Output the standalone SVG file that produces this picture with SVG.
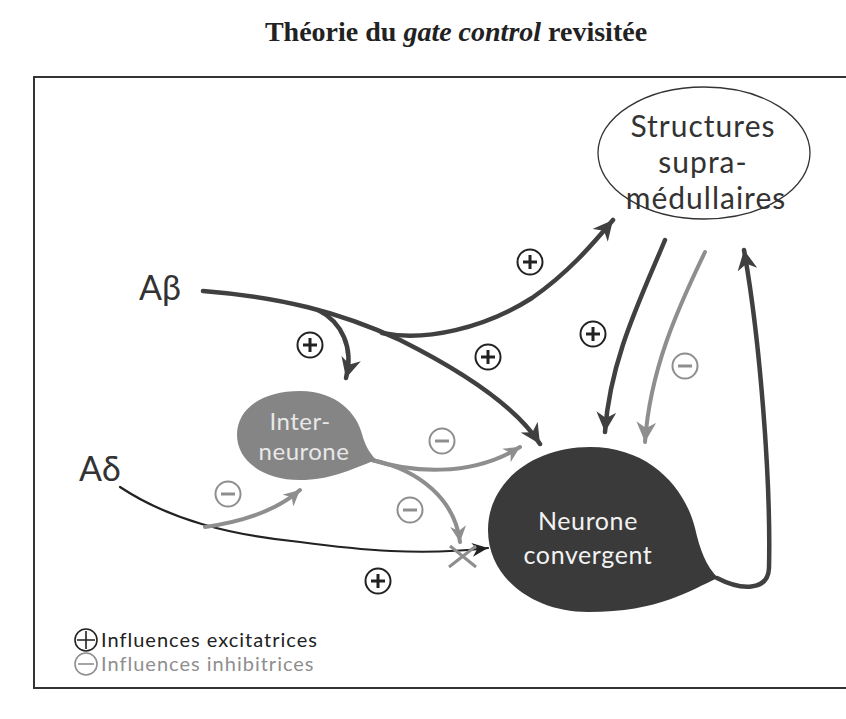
<svg xmlns="http://www.w3.org/2000/svg" width="846" height="719" viewBox="0 0 846 719">
<defs>
<style>
.t{font-family:Lato,"Open Sans","Liberation Sans",sans-serif}
.dk{fill:none;stroke:#404040;stroke-width:4.5;stroke-linecap:round}
.gr{fill:none;stroke:#8e8e8e;stroke-width:4;stroke-linecap:round}
.thin{fill:none;stroke:#222;stroke-width:2.2;stroke-linecap:round}
.pc{fill:#fff;stroke:#222;stroke-width:2}
.ps{stroke:#222;stroke-width:3}
.mc{fill:#fff;stroke:#8e8e8e;stroke-width:2}
.ms{stroke:#8e8e8e;stroke-width:3}
</style>
<marker id="ad" markerUnits="userSpaceOnUse" markerWidth="22" markerHeight="20" refX="20" refY="10" orient="auto" viewBox="0 0 22 20">
<path d="M0,0 L20,10 L0,20 L6,10 Z" fill="#404040"/>
</marker>
<marker id="ag" markerUnits="userSpaceOnUse" markerWidth="22" markerHeight="20" refX="20" refY="10" orient="auto" viewBox="0 0 22 20">
<path d="M0,0 L20,10 L0,20 L6,10 Z" fill="#8e8e8e"/>
</marker>
<marker id="ags" markerUnits="userSpaceOnUse" markerWidth="18" markerHeight="16" refX="16" refY="8" orient="auto" viewBox="0 0 18 16">
<path d="M0,0 L16,8 L0,16 L5,8 Z" fill="#8e8e8e"/>
</marker>
<marker id="at" markerUnits="userSpaceOnUse" markerWidth="18" markerHeight="14" refX="16" refY="7" orient="auto" viewBox="0 0 18 14">
<path d="M0,0 L16,7 L0,14 L5,7 Z" fill="#222"/>
</marker>
</defs>
<rect width="846" height="719" fill="#fff"/>
<text x="456" y="41" text-anchor="middle" font-family="Liberation Serif,serif" font-weight="bold" font-size="28" fill="#222">Théorie du <tspan font-style="italic">gate control</tspan> revisitée</text>
<rect x="34" y="77" width="830" height="611" fill="none" stroke="#333" stroke-width="2"/>

<g id="connectors">
<path class="dk" d="M203,291 C280,297 340,312 400,340 C460,370 515,405 540,444" marker-end="url(#ad)"/>
<path class="dk" d="M318,310 C342,322 354,348 346,378" marker-end="url(#ad)"/>
<path class="dk" d="M382,333 C425,342 485,328 532,298 C568,273 592,245 613,220" marker-end="url(#ad)"/>
<path class="dk" d="M665,240 C640,300 610,360 605,432" marker-end="url(#ad)"/>
<path class="gr" d="M705,252 C677,310 650,370 645,442" marker-end="url(#ag)"/>
<path class="dk" d="M717,578 C740,590 768,592 769,568 C771,480 760,340 744,250" marker-end="url(#ad)"/>
<path class="gr" stroke-width="3.5" d="M372,460 C410,472 470,478 520,447" marker-end="url(#ags)"/>
<path class="gr" stroke-width="3.5" d="M372,460 C420,470 455,500 460,542" marker-end="url(#ags)"/>
<path class="thin" d="M120,487 C170,520 230,535 300,542 C360,550 420,556 488,548" marker-end="url(#at)"/>
<path class="gr" stroke-width="3" d="M205,527 C240,522 275,512 300,490" marker-end="url(#ags)"/>
<path d="M450,546 L476,567 M449,567 L476,546" stroke="#8e8e8e" stroke-width="3" fill="none"/>
</g>

<g id="structures">
<ellipse cx="704" cy="153" rx="106" ry="66" fill="#fff" stroke="#333" stroke-width="1.3"/>
<text class="t" x="703" y="137" text-anchor="middle" font-size="30" letter-spacing="1" fill="#333">Structures</text>
<text class="t" x="703" y="173" text-anchor="middle" font-size="30" letter-spacing="1" fill="#333">supra-</text>
<text class="t" x="706" y="209" text-anchor="middle" font-size="30" letter-spacing="1" fill="#333">médullaires</text>
</g>

<g id="interneurone">
<path d="M376,460 C350,470 330,480 300,480 C262,480 237,460 237,435 C237,408 263,391 300,391 C337,391 357,414 362,434 C365,445 369,452 376,460 Z" fill="#858585"/>
<text class="t" x="300" y="430" text-anchor="middle" font-size="24" letter-spacing="0.5" fill="#e8e8e8">Inter-</text>
<text class="t" x="304" y="460" text-anchor="middle" font-size="24" letter-spacing="0.5" fill="#e8e8e8">neurone</text>
</g>

<g id="neurone">
<path d="M718,578 C690,590 660,612 588,612 C533,612 488,578 488,530 C488,482 533,447 590,447 C650,447 685,488 695,528 C700,550 706,566 718,578 Z" fill="#3a3a3a"/>
<text class="t" x="588" y="530" text-anchor="middle" font-size="25" letter-spacing="0.6" fill="#f2f2f2">Neurone</text>
<text class="t" x="588" y="564" text-anchor="middle" font-size="25" letter-spacing="0.6" fill="#f2f2f2">convergent</text>
</g>

<g id="abeta"><text class="t" x="139" y="300" font-size="34" fill="#333">Aβ</text></g>
<g id="adelta"><text class="t" x="79" y="481" font-size="34" fill="#333">Aδ</text></g>

<g id="signs">
<circle class="pc" cx="530" cy="262" r="12.5"/><path class="ps" d="M523,262 H537 M530,255 V269"/>
<circle class="pc" cx="310" cy="345" r="12.5"/><path class="ps" d="M303,345 H317 M310,338 V352"/>
<circle class="pc" cx="488" cy="357" r="12.5"/><path class="ps" d="M481,357 H495 M488,350 V364"/>
<circle class="pc" cx="593" cy="334" r="12.5"/><path class="ps" d="M586,334 H600 M593,327 V341"/>
<circle class="pc" cx="378" cy="581" r="12.5"/><path class="ps" d="M371,581 H385 M378,574 V588"/>
<circle class="mc" cx="685" cy="366" r="12.5"/><path class="ms" d="M678,366 H692"/>
<circle class="mc" cx="442" cy="441" r="12.5"/><path class="ms" d="M435,441 H449"/>
<circle class="mc" cx="410" cy="510" r="12.5"/><path class="ms" d="M403,510 H417"/>
<circle class="mc" cx="228" cy="494" r="12.5"/><path class="ms" d="M221,494 H235"/>
</g>

<g id="legend">
<circle cx="86" cy="640" r="11" fill="none" stroke="#222" stroke-width="1.6"/><path d="M77,640 H95 M86,631 V649" stroke="#222" stroke-width="1.6"/>
<text class="t" x="101" y="647" font-size="20" letter-spacing="1" fill="#222">Influences excitatrices</text>
<circle cx="86" cy="664" r="11" fill="none" stroke="#8e8e8e" stroke-width="1.6"/><path d="M78,664 H94" stroke="#8e8e8e" stroke-width="1.6"/>
<text class="t" x="101" y="671" font-size="20" letter-spacing="1" fill="#8e8e8e">Influences inhibitrices</text>
</g>
</svg>
